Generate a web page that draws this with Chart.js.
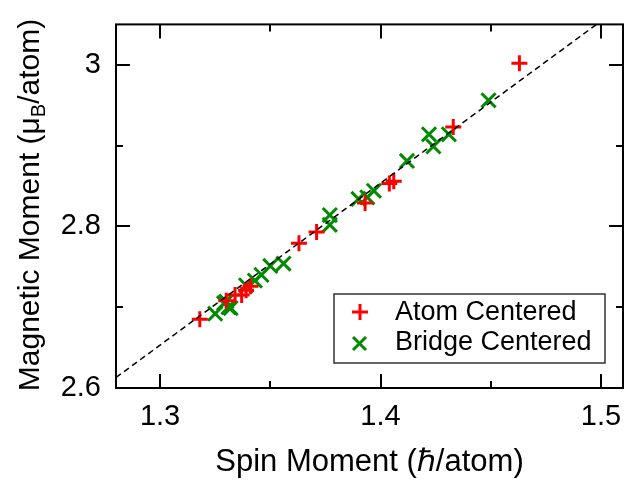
<!DOCTYPE html>
<html>
<head>
<meta charset="utf-8">
<script src="https://cdn.jsdelivr.net/npm/chart.js@4.4.0/dist/chart.umd.min.js"></script>
<style>
  html, body { margin: 0; padding: 0; background: #fff; }
</style>
</head>
<body>
<canvas id="chart" width="644" height="485"></canvas>
<script>
// data
const atomX = [1.463, 1.433, 1.404, 1.406, 1.393, 1.371, 1.363, 1.341, 1.339, 1.337, 1.334, 1.330, 1.318];
const atomY = [3.002, 2.923, 2.853, 2.856, 2.829, 2.793, 2.779, 2.726, 2.721, 2.715, 2.715, 2.708, 2.685];
const bridgeX = [1.449, 1.431, 1.422, 1.424, 1.412, 1.397, 1.394, 1.390, 1.377, 1.377, 1.356, 1.350, 1.346, 1.343, 1.339, 1.330, 1.329, 1.331, 1.332, 1.325];
const bridgeY = [2.956, 2.914, 2.914, 2.899, 2.881, 2.844, 2.836, 2.834, 2.814, 2.802, 2.754, 2.751, 2.740, 2.733, 2.727, 2.707, 2.705, 2.700, 2.699, 2.692];
const fitX = [1.28, 1.498];
const fitY = [2.613, 3.05];
const xTicks = [1.3, 1.4, 1.5];
const xMinor = [1.35, 1.45];
const yTicks = [2.6, 2.8, 3];
const yMinor = [2.7, 2.9];
const seriesNames = ['Atom Centered', 'Bridge Centered'];

const RED = '#ff0000';
const GREEN = 'rgb(0,139,0)';
const FONT = '"Liberation Sans", Arial, sans-serif';

const toPts = (xs, ys) => xs.map((x, i) => ({ x: x, y: ys[i] }));

// frame, inward ticks on all sides, y title with subscript, legend box
const decor = {
  id: 'decor',
  afterDatasetsDraw(chart) {
    const ctx = chart.ctx;
    const a = chart.chartArea;
    const sx = chart.scales.x, sy = chart.scales.y;
    ctx.save();
    ctx.strokeStyle = '#000';
    ctx.lineWidth = 2;
    ctx.strokeRect(a.left, a.top, a.right - a.left, a.bottom - a.top);
    ctx.beginPath();
    const tickX = (v, len) => {
      const p = Math.round(sx.getPixelForValue(v));
      ctx.moveTo(p, a.bottom); ctx.lineTo(p, a.bottom - len);
      ctx.moveTo(p, a.top); ctx.lineTo(p, a.top + len);
    };
    const tickY = (v, len) => {
      const p = Math.round(sy.getPixelForValue(v));
      ctx.moveTo(a.left, p); ctx.lineTo(a.left + len, p);
      ctx.moveTo(a.right, p); ctx.lineTo(a.right - len, p);
    };
    xTicks.forEach(v => tickX(v, 14));
    xMinor.forEach(v => tickX(v, 7));
    yTicks.forEach(v => tickY(v, 14));
    yMinor.forEach(v => tickY(v, 7));
    ctx.stroke();
    ctx.restore();
  },
  afterDraw(chart) {
    const ctx = chart.ctx;
    ctx.save();
    // y axis title
    ctx.fillStyle = '#000';
    ctx.translate(31, 205);
    ctx.rotate(-Math.PI / 2);
    const big = '30px ' + FONT, small = '20px ' + FONT;
    const p1 = 'Magnetic Moment (\u03bc', p2 = 'B', p3 = '/atom)';
    ctx.font = big;
    const w1 = ctx.measureText(p1).width, w3 = ctx.measureText(p3).width;
    ctx.font = small;
    const w2 = ctx.measureText(p2).width;
    let x = -(w1 + w2 + w3) / 2;
    ctx.textBaseline = 'middle';
    ctx.textAlign = 'left';
    ctx.font = big; ctx.fillText(p1, x, 0); x += w1;
    ctx.font = small; ctx.fillText(p2, x, 8); x += w2;
    ctx.font = big; ctx.fillText(p3, x, 0);
    ctx.restore();

    // legend
    ctx.save();
    ctx.strokeStyle = '#333';
    ctx.lineWidth = 1.5;
    ctx.strokeRect(334, 294, 271, 69);
    ctx.lineWidth = 3;
    ctx.strokeStyle = RED;
    ctx.beginPath();
    ctx.moveTo(352, 312); ctx.lineTo(368, 312);
    ctx.moveTo(360, 304); ctx.lineTo(360, 320);
    ctx.stroke();
    ctx.strokeStyle = GREEN;
    ctx.beginPath();
    ctx.moveTo(353, 337); ctx.lineTo(366, 350);
    ctx.moveTo(366, 337); ctx.lineTo(353, 350);
    ctx.stroke();
    ctx.fillStyle = '#000';
    ctx.font = '27px ' + FONT;
    ctx.textBaseline = 'middle';
    ctx.fillText(seriesNames[0], 395, 313);
    ctx.fillText(seriesNames[1], 395, 343);
    ctx.restore();
  }
};

new Chart(document.getElementById('chart'), {
  type: 'scatter',
  data: {
    datasets: [
      {
        type: 'line',
        label: 'fit',
        data: toPts(fitX, fitY),
        borderColor: '#000',
        borderWidth: 1.5,
        borderDash: [6, 4],
        pointRadius: 0,
        fill: false
      },
      {
        label: seriesNames[0],
        data: toPts(atomX, atomY),
        pointStyle: 'cross',
        pointRadius: 8,
        borderColor: RED,
        backgroundColor: RED,
        borderWidth: 3
      },
      {
        label: seriesNames[1],
        data: toPts(bridgeX, bridgeY),
        pointStyle: 'crossRot',
        pointRadius: 10,
        borderColor: GREEN,
        backgroundColor: GREEN,
        borderWidth: 3
      }
    ]
  },
  options: {
    responsive: false,
    animation: false,
    layout: { padding: { top: 24, right: 21, left: 0, bottom: 0 } },
    plugins: { legend: { display: false }, tooltip: { enabled: false } },
    scales: {
      x: {
        type: 'linear',
        min: 1.28,
        max: 1.51,
        afterBuildTicks: s => { s.ticks = xTicks.map(v => ({ value: v })); },
        afterFit: s => { s.height = 97; },
        grid: { display: false },
        border: { display: false },
        ticks: {
          color: '#000',
          font: { size: 29, family: FONT },
          padding: 4,
          maxRotation: 0,
          callback: v => String(v)
        },
        title: {
          display: true,
          text: 'Spin Moment (\u210f/atom)',
          color: '#000',
          font: { size: 31, family: FONT },
          padding: { bottom: 4 }
        }
      },
      y: {
        type: 'linear',
        min: 2.6,
        max: 3.05,
        afterBuildTicks: s => { s.ticks = yTicks.map(v => ({ value: v })); },
        afterFit: s => { s.width = 116; },
        grid: { display: false },
        border: { display: false },
        ticks: {
          color: '#000',
          font: { size: 29, family: FONT },
          padding: 7,
          callback: v => String(v)
        }
      }
    }
  },
  plugins: [decor]
});
</script>
</body>
</html>
